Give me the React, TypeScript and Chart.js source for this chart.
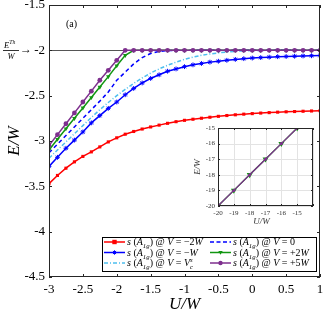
import React, { useEffect, useRef } from 'react';
import { Chart, registerables } from 'chart.js';
Chart.register(...registerables);

const U = [-3, -2.875, -2.75, -2.625, -2.5, -2.375, -2.25, -2.125, -2, -1.875, -1.75, -1.625, -1.5, -1.375, -1.25, -1.125, -1, -0.875, -0.75, -0.625, -0.5, -0.375, -0.25, -0.125, 0, 0.125, 0.25, 0.375, 0.5, 0.625, 0.75, 0.875, 1];
const E_VM2W = [-3.47, -3.38, -3.3, -3.23, -3.17, -3.12, -3.065, -3.01, -2.965, -2.925, -2.895, -2.868, -2.845, -2.825, -2.805, -2.787, -2.772, -2.76, -2.749, -2.738, -2.728, -2.719, -2.711, -2.704, -2.698, -2.692, -2.687, -2.682, -2.678, -2.675, -2.672, -2.669, -2.666];
const E_VMW = [-3.28, -3.18, -3.08, -2.99, -2.9, -2.8, -2.72, -2.64, -2.57, -2.49, -2.42, -2.36, -2.31, -2.27, -2.23, -2.205, -2.18, -2.16, -2.145, -2.13, -2.12, -2.11, -2.1, -2.092, -2.085, -2.08, -2.075, -2.07, -2.068, -2.065, -2.062, -2.06, -2.058];
const E_VC = [-3.19, -3.1, -3.01, -2.92, -2.83, -2.74, -2.655, -2.575, -2.5, -2.43, -2.365, -2.305, -2.25, -2.205, -2.165, -2.13, -2.1, -2.075, -2.055, -2.04, -2.028, -2.018, -2.011, -2.006, -2.003, -2.001, -2, -2, -2, -2, -2, -2, -2];
const E_V0 = [-3.13, -3.035, -2.94, -2.845, -2.75, -2.655, -2.56, -2.46, -2.33, -2.24, -2.15, -2.08, -2.035, -2.012, -2.003, -2, -2, -2, -2, -2, -2, -2, -2, -2, -2, -2, -2, -2, -2, -2, -2, -2, -2];
const E_VP2W = [-3.1, -2.98, -2.865, -2.75, -2.635, -2.52, -2.405, -2.29, -2.17, -2.055, -2, -2, -2, -2, -2, -2, -2, -2, -2, -2, -2, -2, -2, -2, -2, -2, -2, -2, -2, -2, -2, -2, -2];
const E_VP5W = [-3.05, -2.93, -2.81, -2.69, -2.57, -2.45, -2.33, -2.22, -2.11, -2, -2, -2, -2, -2, -2, -2, -2, -2, -2, -2, -2, -2, -2, -2, -2, -2, -2, -2, -2, -2, -2, -2, -2];
const E_TH = -2;

const X_TICKS = [-3, -2.5, -2, -1.5, -1, -0.5, 0, 0.5, 1];
const Y_TICKS = [-4.5, -4, -3.5, -3, -2.5, -2, -1.5];

const INSET_U = [-20, -19, -18, -17, -16, -15];
const INSET_E_P2W = [-20, -19, -18, -17, -16, -15];
const INSET_E_P5W = [-20, -19, -18, -17, -16, -15];
const INSET_X_TICKS = [-20, -19, -18, -17, -16, -15];
const INSET_Y_TICKS = [-20, -19, -18, -17, -16, -15];

const RED = '#ff0000';
const BLUE = '#0000ff';
const CYAN = '#4dbeee';
const GREEN = '#129612';
const PURPLE = '#7e2f8e';
const SERIF = '"Liberation Serif", "DejaVu Serif", serif';

type Part = { t: string; it?: boolean; sub?: string; sup?: string };

function drawRich(ctx: CanvasRenderingContext2D, parts: Part[], x: number, y: number, size: number) {
  let cx = x;
  ctx.textAlign = 'left';
  ctx.textBaseline = 'alphabetic';
  for (const p of parts) {
    ctx.font = `${p.it ? 'italic ' : ''}${size}px ${SERIF}`;
    ctx.fillText(p.t, cx, y);
    cx += ctx.measureText(p.t).width;
    let w = 0;
    const ss = size * 0.68;
    if (p.sub) {
      ctx.font = `italic ${ss}px ${SERIF}`;
      ctx.fillText(p.sub, cx, y + size * 0.28);
      w = Math.max(w, ctx.measureText(p.sub).width);
    }
    if (p.sup) {
      ctx.font = `italic ${ss}px ${SERIF}`;
      ctx.fillText(p.sup, cx, y - size * 0.42);
      w = Math.max(w, ctx.measureText(p.sup).width);
    }
    cx += w;
  }
  return cx;
}

function drawMarker(ctx: CanvasRenderingContext2D, kind: string, x: number, y: number, r: number, color: string) {
  ctx.save();
  ctx.fillStyle = color;
  ctx.strokeStyle = color;
  ctx.lineWidth = 1;
  ctx.setLineDash([]);
  ctx.beginPath();
  if (kind === 'rect') {
    ctx.rect(x - r, y - r, 2 * r, 2 * r);
    ctx.fill();
  } else if (kind === 'circle') {
    ctx.arc(x, y, r, 0, Math.PI * 2);
    ctx.fill();
  } else if (kind === 'tri') {
    ctx.moveTo(x - r, y - r * 0.7);
    ctx.lineTo(x + r, y - r * 0.7);
    ctx.lineTo(x, y + r);
    ctx.closePath();
    ctx.fill();
  } else if (kind === 'star') {
    for (let k = 0; k < 4; k++) {
      const a = (k * Math.PI) / 4;
      ctx.moveTo(x - r * Math.cos(a), y - r * Math.sin(a));
      ctx.lineTo(x + r * Math.cos(a), y + r * Math.sin(a));
    }
    ctx.stroke();
  }
  ctx.restore();
}

function pts(xs: number[], ys: number[]) {
  return xs.map((x, i) => ({ x, y: ys[i] }));
}

const legendItems = [
  { color: RED, dash: [] as number[], marker: 'rect', tail: [{ t: ' = −2' }, { t: 'W', it: true }] as Part[] },
  { color: BLUE, dash: [] as number[], marker: 'star', tail: [{ t: ' = −' }, { t: 'W', it: true }] as Part[] },
  { color: CYAN, dash: [4, 2, 1, 2], marker: '', tail: [{ t: ' = ' }, { t: 'V', it: true, sub: 'c', sup: 's' }] as Part[] },
  { color: BLUE, dash: [4, 2.5], marker: '', tail: [{ t: ' = 0' }] as Part[] },
  { color: GREEN, dash: [] as number[], marker: 'tri', tail: [{ t: ' = +2' }, { t: 'W', it: true }] as Part[] },
  { color: PURPLE, dash: [] as number[], marker: 'circle', tail: [{ t: ' = +5' }, { t: 'W', it: true }] as Part[] },
];

function drawBoxTicks(ctx: CanvasRenderingContext2D, chart: any, xt: number[], yt: number[], len: number) {
  const a = chart.chartArea;
  const xs = chart.scales.x;
  const ys = chart.scales.y;
  ctx.save();
  ctx.strokeStyle = '#262626';
  ctx.lineWidth = 1;
  ctx.setLineDash([]);
  ctx.beginPath();
  for (const v of xt) {
    const px = Math.round(xs.getPixelForValue(v)) + 0.5;
    ctx.moveTo(px, a.bottom);
    ctx.lineTo(px, a.bottom - len);
    ctx.moveTo(px, a.top);
    ctx.lineTo(px, a.top + len);
  }
  for (const v of yt) {
    const py = Math.round(ys.getPixelForValue(v)) + 0.5;
    ctx.moveTo(a.left, py);
    ctx.lineTo(a.left + len, py);
    ctx.moveTo(a.right, py);
    ctx.lineTo(a.right - len, py);
  }
  ctx.stroke();
  ctx.strokeRect(Math.round(a.left) + 0.5, Math.round(a.top) + 0.5, Math.round(a.right - a.left) - 1, Math.round(a.bottom - a.top) - 1);
  ctx.restore();
}

const mainPlugin = {
  id: 'mainDeco',
  beforeDatasetsDraw(chart: any) {
    const ctx = chart.ctx as CanvasRenderingContext2D;
    const a = chart.chartArea;
    const py = Math.round(chart.scales.y.getPixelForValue(E_TH)) + 0.5;
    ctx.save();
    ctx.strokeStyle = '#555555';
    ctx.lineWidth = 1;
    ctx.beginPath();
    ctx.moveTo(a.left, py);
    ctx.lineTo(a.right, py);
    ctx.stroke();
    ctx.restore();
  },
  afterDraw(chart: any) {
    const ctx = chart.ctx as CanvasRenderingContext2D;
    const a = chart.chartArea;
    drawBoxTicks(ctx, chart, X_TICKS, Y_TICKS, 3);
    ctx.save();
    ctx.fillStyle = '#000';
    // (a)
    ctx.font = `10px ${SERIF}`;
    ctx.textAlign = 'left';
    ctx.textBaseline = 'alphabetic';
    ctx.fillText('(a)', 66, 27);
    // axis titles
    ctx.font = `italic 17px ${SERIF}`;
    ctx.textAlign = 'center';
    ctx.textBaseline = 'middle';
    ctx.fillText('U/W', (a.left + a.right) / 2, 305);
    ctx.save();
    ctx.translate(15, (a.top + a.bottom) / 2);
    ctx.rotate(-Math.PI / 2);
    ctx.fillText('E/W', 0, 0);
    ctx.restore();
    // E^Th / W ->
    const py = chart.scales.y.getPixelForValue(E_TH);
    drawRich(ctx, [{ t: 'E', it: true, sup: 'Th' }], 4, py - 2.5, 8.5);
    ctx.fillRect(3, Math.round(py), 16, 0.8);
    ctx.font = `italic 8.5px ${SERIF}`;
    ctx.textAlign = 'center';
    ctx.textBaseline = 'alphabetic';
    ctx.fillText('W', 11, py + 8.5);
    ctx.font = `12px ${SERIF}`;
    ctx.textAlign = 'left';
    ctx.textBaseline = 'middle';
    ctx.fillText('→', 20, py);
    // legend
    const lx = 102, ly = 237, lw = 215, lh = 35;
    ctx.fillStyle = '#fff';
    ctx.fillRect(lx, ly, lw, lh);
    ctx.strokeStyle = '#000';
    ctx.lineWidth = 1;
    ctx.strokeRect(lx + 0.5, ly + 0.5, lw - 1, lh - 1);
    const colX = [lx + 2, lx + 108];
    const rowY = [242, 252.5, 263];
    legendItems.forEach((it, i) => {
      const c = Math.floor(i / 3);
      const r = i % 3;
      const x0 = colX[c];
      const y0 = rowY[r];
      ctx.save();
      ctx.strokeStyle = it.color;
      ctx.lineWidth = 1.5;
      ctx.setLineDash(it.dash);
      ctx.beginPath();
      ctx.moveTo(x0, y0);
      ctx.lineTo(x0 + 21, y0);
      ctx.stroke();
      ctx.restore();
      if (it.marker) drawMarker(ctx, it.marker, x0 + 10.5, y0, 2.2, it.color);
      ctx.fillStyle = '#000';
      const parts: Part[] = [
        { t: 's', it: true },
        { t: ' (' },
        { t: 'A', it: true, sub: '1g' },
        { t: ') @ ' },
        { t: 'V', it: true },
        ...it.tail,
      ];
      drawRich(ctx, parts, x0 + 23, y0 + 3.3, 10);
    });
    ctx.restore();
  },
};

const insetPlugin = {
  id: 'insetDeco',
  beforeDatasetsDraw(chart: any) {
    const ctx = chart.ctx as CanvasRenderingContext2D;
    const a = chart.chartArea;
    ctx.save();
    ctx.fillStyle = '#fff';
    ctx.fillRect(a.left, a.top, a.right - a.left, a.bottom - a.top);
    ctx.strokeStyle = '#e3e3e3';
    ctx.lineWidth = 1;
    ctx.beginPath();
    for (const v of [...INSET_X_TICKS, -14]) {
      const px = Math.round(chart.scales.x.getPixelForValue(v)) + 0.5;
      ctx.moveTo(px, a.top);
      ctx.lineTo(px, a.bottom);
    }
    for (const v of INSET_Y_TICKS) {
      const py = Math.round(chart.scales.y.getPixelForValue(v)) + 0.5;
      ctx.moveTo(a.left, py);
      ctx.lineTo(a.right, py);
    }
    ctx.stroke();
    ctx.restore();
  },
  afterDraw(chart: any) {
    const ctx = chart.ctx as CanvasRenderingContext2D;
    const a = chart.chartArea;
    drawBoxTicks(ctx, chart, [...INSET_X_TICKS, -14], INSET_Y_TICKS, 2);
    ctx.save();
    ctx.fillStyle = '#333';
    ctx.font = `italic 9px ${SERIF}`;
    ctx.textAlign = 'center';
    ctx.textBaseline = 'middle';
    ctx.fillText('U/W', (a.left + a.right) / 2 - 4, a.bottom + 16);
    ctx.translate(a.left - 20, (a.top + a.bottom) / 2);
    ctx.rotate(-Math.PI / 2);
    ctx.fillText('E/W', 0, 0);
    ctx.restore();
  },
};

function MainChart() {
  const ref = useRef<HTMLCanvasElement>(null);
  useEffect(() => {
    const c = new Chart(ref.current!, {
      type: 'line',
      data: {
        datasets: [
          { label: 'V=+5W', data: pts(U, E_VP5W), borderColor: PURPLE, backgroundColor: PURPLE, borderWidth: 1.5, pointStyle: 'circle', pointRadius: 2.4, pointBorderWidth: 0 },
          { label: 'V=+2W', data: pts(U, E_VP2W), borderColor: GREEN, backgroundColor: GREEN, borderWidth: 1.5, pointStyle: 'triangle', rotation: 180, pointRadius: 2.6, pointBorderWidth: 0 },
          { label: 'V=0', data: pts(U, E_V0), borderColor: BLUE, backgroundColor: BLUE, borderWidth: 1.5, borderDash: [4, 3], pointRadius: 0 },
          { label: 'V=Vc', data: pts(U, E_VC), borderColor: CYAN, backgroundColor: CYAN, borderWidth: 1.5, borderDash: [4, 2, 1, 2], pointRadius: 0 },
          { label: 'V=-W', data: pts(U, E_VMW), borderColor: BLUE, backgroundColor: BLUE, borderWidth: 1.5, pointStyle: 'star', pointRadius: 2.4, pointBorderWidth: 1 },
          { label: 'V=-2W', data: pts(U, E_VM2W), borderColor: RED, backgroundColor: RED, borderWidth: 1.5, pointStyle: 'rect', pointRadius: 2.2, pointBorderWidth: 0 },
        ],
      },
      options: {
        animation: false,
        responsive: false,
        devicePixelRatio: 1,
        layout: { padding: { top: 5, right: 2, left: 0, bottom: 0 } },
        plugins: { legend: { display: false }, tooltip: { enabled: false } },
        elements: { line: { tension: 0 } },
        scales: {
          x: {
            type: 'linear',
            min: -3,
            max: 1,
            grid: { display: false, drawTicks: false },
            border: { display: false },
            afterBuildTicks: (s: any) => { s.ticks = X_TICKS.map((v) => ({ value: v })); },
            afterFit: (s: any) => { s.height = 40; s.paddingLeft = 0; s.paddingRight = 0; },
            ticks: { padding: 5, color: '#000', font: { family: SERIF, size: 13 }, maxRotation: 0, autoSkip: false, callback: (v: any) => String(v) },
          },
          y: {
            type: 'linear',
            min: -4.5,
            max: -1.5,
            grid: { display: false, drawTicks: false },
            border: { display: false },
            afterBuildTicks: (s: any) => { s.ticks = Y_TICKS.map((v) => ({ value: v })); },
            afterFit: (s: any) => { s.width = 49; s.paddingTop = 0; s.paddingBottom = 0; },
            ticks: { padding: 4, color: '#000', font: { family: SERIF, size: 13 }, autoSkip: false, callback: (v: any) => String(v) },
          },
        },
      },
      plugins: [mainPlugin],
    } as any);
    return () => c.destroy();
  }, []);
  return <canvas ref={ref} width={325} height={317} style={{ position: 'absolute', left: 0, top: 0 }} />;
}

function InsetChart() {
  const ref = useRef<HTMLCanvasElement>(null);
  useEffect(() => {
    const c = new Chart(ref.current!, {
      type: 'line',
      data: {
        datasets: [
          { label: 'V=+5W', data: pts(INSET_U, INSET_E_P5W), borderColor: PURPLE, backgroundColor: PURPLE, borderWidth: 1.3, pointStyle: 'circle', pointRadius: 1.6, pointBorderWidth: 0 },
          { label: 'V=+2W', data: pts(INSET_U, INSET_E_P2W), borderColor: GREEN, backgroundColor: GREEN, borderWidth: 1.3, pointStyle: 'triangle', rotation: 180, pointRadius: 3.4, pointBorderWidth: 0 },
        ],
      },
      options: {
        animation: false,
        responsive: false,
        devicePixelRatio: 1,
        layout: { padding: { top: 10, right: 7, left: 0, bottom: 0 } },
        plugins: { legend: { display: false }, tooltip: { enabled: false } },
        scales: {
          x: {
            type: 'linear',
            min: -20,
            max: -14,
            grid: { display: false, drawTicks: false },
            border: { display: false },
            afterBuildTicks: (s: any) => { s.ticks = INSET_X_TICKS.map((v) => ({ value: v })); },
            afterFit: (s: any) => { s.height = 24; s.paddingLeft = 0; s.paddingRight = 0; },
            ticks: { padding: 3, color: '#333', font: { family: SERIF, size: 7 }, maxRotation: 0, autoSkip: false, callback: (v: any) => String(v) },
          },
          y: {
            type: 'linear',
            min: -20,
            max: -15,
            grid: { display: false, drawTicks: false },
            border: { display: false },
            afterBuildTicks: (s: any) => { s.ticks = INSET_Y_TICKS.map((v) => ({ value: v })); },
            afterFit: (s: any) => { s.width = 33; s.paddingTop = 0; s.paddingBottom = 0; },
            ticks: { padding: 3, color: '#333', font: { family: SERIF, size: 7 }, autoSkip: false, callback: (v: any) => String(v) },
          },
        },
      },
      plugins: [insetPlugin],
    } as any);
    return () => c.destroy();
  }, []);
  return <canvas ref={ref} width={135} height={112} style={{ position: 'absolute', left: 185, top: 118 }} />;
}

export default function App() {
  useEffect(() => {
    document.body.style.margin = '0';
  }, []);
  return (
    <div style={{ position: 'relative', width: 325, height: 317, background: '#fff', overflow: 'hidden' }}>
      <MainChart />
      <InsetChart />
    </div>
  );
}
